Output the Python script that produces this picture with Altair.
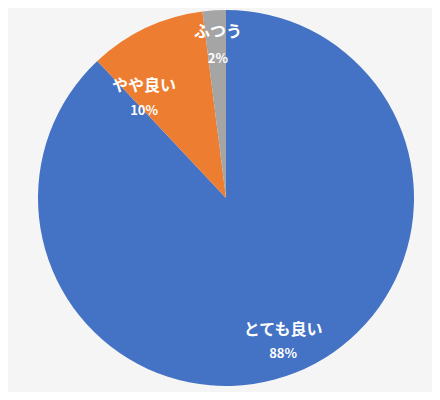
import altair as alt
import pandas as pd

categories = ["とても良い", "やや良い", "ふつう"]
values = [88, 10, 2]
pct_labels = ["88%", "10%", "2%"]
colors = ["#4472C4", "#ED7D31", "#A5A5A5"]

df = pd.DataFrame({
    "cat": categories,
    "v": values,
    "pct": pct_labels,
    "ord": list(range(len(categories))),
})

FONT = "Noto Sans CJK JP"
theta_scale = alt.Scale(domain=[0, 100])
cx = alt.value(218)
cy = alt.value(190)

base = alt.Chart(df)

arcs = base.mark_arc(radius=188).encode(
    theta=alt.Theta("v:Q", stack=True, scale=theta_scale),
    color=alt.Color("cat:N", scale=alt.Scale(domain=categories, range=colors), legend=None),
    order=alt.Order("ord:Q"),
    x=cx, y=cy,
)

lab = base.transform_window(
    cum="sum(v)", sort=[alt.SortField("ord")]
).transform_calculate(mid="datum.cum - datum.v / 2")

def text_layers(filt, radius, toff, gap):
    b = lab.transform_filter(filt)
    enc = dict(theta=alt.Theta("mid:Q", scale=theta_scale, stack=None), x=cx, y=cy)
    name = b.mark_text(radius=radius, thetaOffset=toff, dy=-gap, font=FONT, fontWeight="bold",
                       fontSize=16, color="white").encode(text="cat:N", **enc)
    pct = b.mark_text(radius=radius, thetaOffset=toff, dy=gap, font=FONT, fontWeight="bold",
                      fontSize=13, color="white").encode(text="pct:N", **enc)
    return [name, pct]

layers = [arcs]
layers += text_layers("datum.cat == 'とても良い'", 155, 0, 12)
layers += text_layers("datum.cat == 'やや良い'", 129, -0.248, 12.5)
layers += text_layers("datum.cat == 'ふつう'", 153, 0.01, 13.5)

chart = alt.layer(*layers).properties(
    width=424, height=384, padding=0, background="#F5F5F5"
).configure_view(stroke=None)

chart.save("out.html", embed_options={"renderer": "svg", "actions": False})
